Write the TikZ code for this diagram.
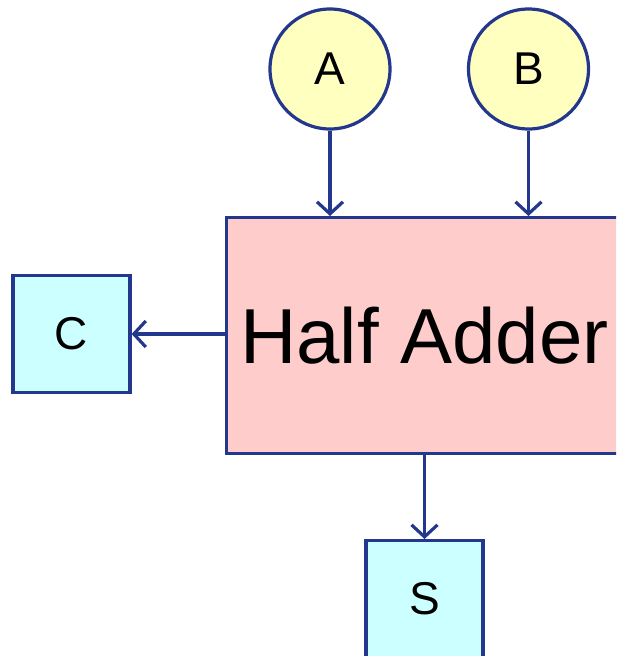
\documentclass[tikz,border=0pt]{standalone}
\usepackage{fontspec}
\setmainfont{Liberation Sans}
\usetikzlibrary{arrows.meta}
\definecolor{edge}{RGB}{35,55,140}
\definecolor{inputfill}{RGB}{255,255,192}
\definecolor{blockfill}{RGB}{255,204,204}
\definecolor{outputfill}{RGB}{204,255,255}
\tikzset{
  wire/.style={draw=edge, line width=3.2pt, -{Straight Barb[length=12pt,width=26pt,line width=3.2pt]}},
  inputnode/.style={circle, draw=edge, line width=3.2pt, fill=inputfill, minimum size=120pt, inner sep=0pt, font=\fontsize{46}{50}\selectfont},
  outputnode/.style={rectangle, draw=edge, line width=3.2pt, fill=outputfill, minimum size=117pt, inner sep=0pt, font=\fontsize{46}{50}\selectfont},
  blocknode/.style={rectangle, draw=edge, line width=3.2pt, fill=blockfill, minimum width=420pt, minimum height=236pt, inner sep=0pt}
}
\begin{document}
\begin{tikzpicture}[x=1pt, y=-1pt]
  \useasboundingbox (0,0) rectangle (616,656);
  \clip (0,0) rectangle (616,656);
  % inputs
  \node[inputnode] (a) at (330,69) {A};
  \node[inputnode] (b) at (528.5,69) {B};
  % half adder block (runs past the right edge)
  \node[blocknode, anchor=north west] (ha) at (225,216) {};
  \node[anchor=west, inner sep=0pt, font=\fontsize{78}{88}\selectfont] (label) at (240,336) {Half Adder};
  % outputs
  \node[outputnode] (c) at (71.5,334) {C};
  \node[outputnode, anchor=north] (s) at (424.5,539) {S};
  % connections
  \draw[wire] (a.south) -- (a.south |- ha.north);
  \draw[wire] (b.south) -- (b.south |- ha.north);
  \draw[wire] (ha.west |- c.east) -- (c.east);
  \draw[wire] (s.north |- ha.south) -- (s.north);
\end{tikzpicture}
\end{document}
